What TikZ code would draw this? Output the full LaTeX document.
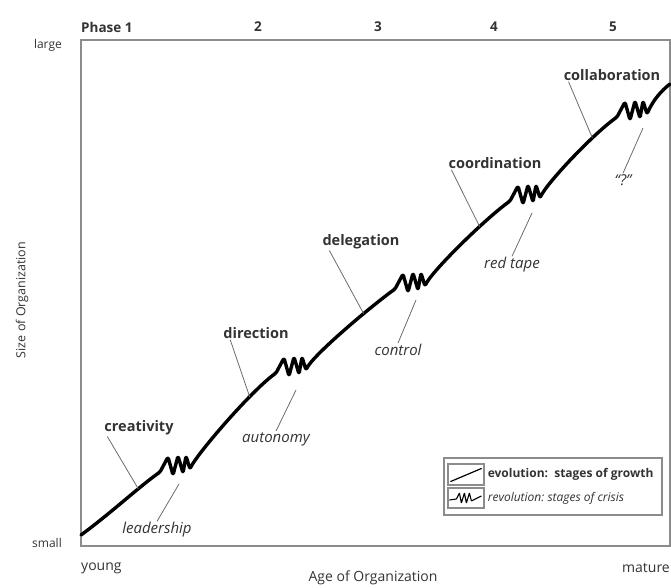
\documentclass[tikz,border=0pt]{standalone}
\usepackage{fontspec}
\setmainfont{Open Sans}
\usepackage{tikz}
\usetikzlibrary{calc,positioning}
\definecolor{inkgray}{gray}{0.2}
\definecolor{framegray}{gray}{0.55}
\definecolor{leadgray}{gray}{0.42}
\tikzstyle{stage} = [text=inkgray, inner sep=1pt,
    font=\bfseries\fontsize{14.5}{16}\selectfont]
\tikzstyle{crisislabel} = [text=inkgray, inner sep=1pt,
    font=\itshape\fontsize{15}{17}\selectfont]
\tikzstyle{axis} = [text=inkgray, inner sep=1pt, font=\fontsize{14}{16}\selectfont]
\tikzstyle{scalemark} = [text=inkgray, inner sep=1pt, font=\fontsize{12}{14}\selectfont]
\tikzstyle{phase} = [text=inkgray, inner sep=1pt, font=\bfseries\fontsize{13.5}{15}\selectfont]
\tikzstyle{frame} = [draw=framegray, line width=1.6pt]
\tikzstyle{pointer} = [draw=leadgray, line width=0.8pt]
\tikzstyle{growth} = [line width=3.4pt, line join=round, line cap=round, rounded corners=1.5pt]
\tikzstyle{crisis} = [insert path={-- ++(8,-15) -- ++(5,18) -- ++(5,-19) -- ++(5,17) -- ++(3,-17) -- ++(4,13)}]
\tikzstyle{keybox} = [draw=framegray, line width=1.2pt, minimum width=36pt, minimum height=21pt, inner sep=0pt]
\tikzstyle{keytext} = [text=inkgray, inner sep=1pt, font=\fontsize{12}{14}\selectfont]

\begin{document}
\begin{tikzpicture}[x=1pt, y=-1pt]
            \useasboundingbox (0,0) rectangle (671,587);

            \coordinate (origin) at (81,546);
            \coordinate (corner) at (670,40);
            \draw[frame] (origin) rectangle (corner);

            \node[phase, anchor=west, name=ph1] at (80,27) {Phase 1};
            \node[phase, name=ph2] at (258,27) {2};
            \node[phase, name=ph3] at (378,27) {3};
            \node[phase, name=ph4] at (494,27) {4};
            \node[phase, name=ph5] at (613,27) {5};

            \node[scalemark, anchor=east, name=large] at (63,45) {large};
            \node[scalemark, anchor=east, name=small] at (63,543) {small};
            \node[axis, anchor=west, name=young] at (80,568) {young};
            \node[axis, anchor=east, name=mature] at (671,568) {mature};
            \node[axis, name=agelabel] at (373,578) {Age of Organization};
            \node[scalemark, font=\fontsize{12.5}{14}\selectfont, rotate=90, name=sizelabel] at (22,300) {Size of Organization};

            \coordinate (growthstart) at (81,535);
            \coordinate (z1) at (160,472);
            \coordinate (z2) at (276,373);
            \coordinate (z3) at (395,289);
            \coordinate (z4) at (510,201);
            \coordinate (z5) at (617,117);
            \coordinate (growthend) at (670,84);

            \draw[growth] (growthstart) .. controls +(30,-22) and +(-20,14) .. (z1) coordinate[pos=0.68] (ev1) [crisis]
                .. controls +(6,-14) and +(-25,18) .. (z2) coordinate[pos=0.72] (ev2) [crisis]
                .. controls +(6,-14) and +(-25,18) .. (z3) coordinate[pos=0.68] (ev3) [crisis]
                .. controls +(6,-14) and +(-25,18) .. (z4) coordinate[pos=0.68] (ev4) [crisis]
                .. controls +(6,-14) and +(-25,18) .. (z5) coordinate[pos=0.72] (ev5) [crisis]
                .. controls +(6,-14) and +(-8,6) .. (growthend);

            \node[stage, name=creativity] at (139,428) {creativity};
            \node[stage, name=direction] at (256,333) {direction};
            \node[stage, name=delegation] at (361,242) {delegation};
            \node[stage, name=coordination] at (495,163) {coordination};
            \node[stage, name=collaboration] at (612,75) {collaboration};

            \node[crisislabel, name=leadership] at (157,530) {leadership};
            \node[crisislabel, name=autonomy] at (276,439) {autonomy};
            \node[crisislabel, name=control] at (398,350) {control};
            \node[crisislabel, name=redtape] at (512,265) {red tape};
            \node[crisislabel, name=unknown] at (623,180) {``?''};

            \coordinate (rev1) at (179,484);
            \coordinate (rev2) at (296,390);
            \coordinate (rev3) at (416,300);
            \coordinate (rev4) at (532,213);
            \coordinate (rev5) at (643,128);

            \draw[pointer] ([xshift=4pt]creativity.south west) -- (ev1);
            \draw[pointer] ([xshift=8pt]direction.south west) -- (ev2);
            \draw[pointer] ([xshift=8pt]delegation.south west) -- (ev3);
            \draw[pointer] ([xshift=4pt]coordination.south west) -- (ev4);
            \draw[pointer] ([xshift=6pt]collaboration.south west) -- (ev5);
            \draw[pointer] (rev1) -- (leadership.north);
            \draw[pointer] (rev2) -- (autonomy.north);
            \draw[pointer] (rev3) -- (control.north);
            \draw[pointer] (rev4) -- (redtape.north);
            \draw[pointer] (rev5) -- (unknown.north);

            \node[draw=framegray, line width=1.2pt, minimum width=218pt, minimum height=57pt, name=legend] at (553,486.5) {};
            \node[keybox, name=keyevo] at (466,474.5) {};
            \node[keybox, minimum height=20pt, name=keyrev] at (466,498) {};
            \draw[line width=1.2pt] ([shift={(3,-4)}]keyevo.south west) -- ([shift={(-3,5)}]keyevo.north east);
            \draw[line width=1.1pt, rounded corners=0.5pt] ([shift={(2,2)}]keyrev.west) -- ++(7,-1) -- ++(3,-6) -- ++(2,10) -- ++(3,-10)
                -- ++(2,10) -- ++(3,-10) -- ++(2,8) -- ++(10,-5);
            \node[keytext, font=\bfseries\fontsize{12}{14}\selectfont, right=2pt of keyevo, name=evotext] {evolution:\ \ stages of growth};
            \node[keytext, font=\itshape\fontsize{12}{14}\selectfont, right=2pt of keyrev, name=revtext] {revolution:\ stages of crisis};
\end{tikzpicture}
\end{document}
